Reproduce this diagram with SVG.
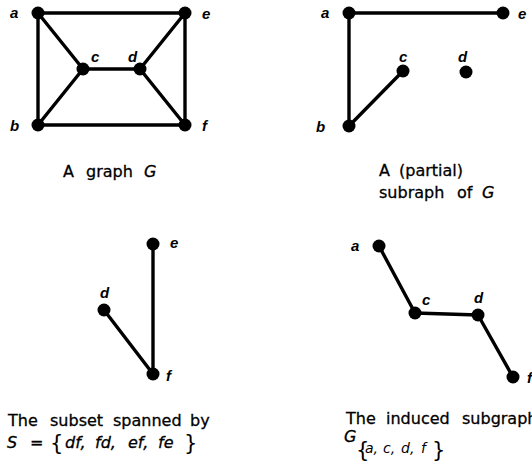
<svg xmlns="http://www.w3.org/2000/svg" width="532" height="466" viewBox="0 0 532 466">
<style>
.e{stroke:#000;stroke-width:3.4;stroke-linecap:round;fill:none}
.n{fill:#000}
.l{font-family:"Liberation Sans",Arial,sans-serif;font-style:italic;font-weight:bold;font-size:15px;fill:#000}
.c{font-family:"DejaVu Sans","Liberation Sans",sans-serif;font-size:16px;fill:#000;stroke:#000;stroke-width:0.3}
.i{font-style:italic}
.s{font-family:"DejaVu Sans","Liberation Sans",sans-serif;font-style:italic;font-size:14px;fill:#000}
.b{font-family:"DejaVu Sans","Liberation Sans",sans-serif;font-size:21px;fill:#000}
</style>
<rect width="532" height="466" fill="#fff"/>
<g id="connectors">
<g id="edges-G">
<line class="e" x1="38" y1="13" x2="185" y2="13"/>
<line class="e" x1="38" y1="13" x2="38" y2="125"/>
<line class="e" x1="185" y1="13" x2="185" y2="125"/>
<line class="e" x1="38" y1="125" x2="185" y2="125"/>
<line class="e" x1="38" y1="13" x2="83" y2="69"/>
<line class="e" x1="38" y1="125" x2="83" y2="69"/>
<line class="e" x1="83" y1="69" x2="140" y2="69"/>
<line class="e" x1="140" y1="69" x2="185" y2="13"/>
<line class="e" x1="140" y1="69" x2="185" y2="125"/>
</g>
<g id="edges-partial">
<line class="e" x1="349" y1="13" x2="503" y2="13"/>
<line class="e" x1="349" y1="13" x2="349" y2="126"/>
<line class="e" x1="349" y1="126" x2="403" y2="71"/>
</g>
<g id="edges-subset">
<line class="e" x1="153" y1="244" x2="153" y2="374"/>
<line class="e" x1="104" y1="310" x2="153" y2="374"/>
</g>
<g id="edges-induced">
<line class="e" x1="379" y1="246" x2="415" y2="313"/>
<line class="e" x1="415" y1="313" x2="478" y2="315"/>
<line class="e" x1="478" y1="315" x2="513" y2="377"/>
</g>
</g>
<g id="G-a"><circle class="n" cx="38" cy="13" r="6.5"/><text class="l" x="10" y="18">a</text></g>
<g id="G-e"><circle class="n" cx="185" cy="13" r="6.5"/><text class="l" x="202" y="19">e</text></g>
<g id="G-c"><circle class="n" cx="83" cy="69" r="6.5"/><text class="l" x="91" y="62">c</text></g>
<g id="G-d"><circle class="n" cx="140" cy="69" r="6.5"/><text class="l" x="128" y="62">d</text></g>
<g id="G-b"><circle class="n" cx="38" cy="125" r="6.5"/><text class="l" x="10" y="131">b</text></g>
<g id="G-f"><circle class="n" cx="185" cy="125" r="6.5"/><text class="l" x="202" y="131">f</text></g>
<g id="caption-G"><text class="c" y="177"><tspan x="63">A</tspan><tspan x="86">graph</tspan><tspan x="144" class="i">G</tspan></text></g>

<g id="P-a"><circle class="n" cx="349" cy="13" r="6.5"/><text class="l" x="321" y="18">a</text></g>
<g id="P-e"><circle class="n" cx="503" cy="13" r="6.5"/><text class="l" x="518" y="19">e</text></g>
<g id="P-c"><circle class="n" cx="403" cy="71" r="6.5"/><text class="l" x="399" y="62">c</text></g>
<g id="P-d"><circle class="n" cx="466" cy="72" r="6.5"/><text class="l" x="458" y="62">d</text></g>
<g id="P-b"><circle class="n" cx="349" cy="126" r="6.5"/><text class="l" x="316" y="132">b</text></g>
<g id="caption-partial"><text class="c" y="176"><tspan x="379">A</tspan><tspan x="399">(partial)</tspan></text><text class="c" y="198"><tspan x="379">subraph</tspan><tspan x="457">of</tspan><tspan x="482" class="i">G</tspan></text></g>

<g id="S-e"><circle class="n" cx="153" cy="244" r="6.5"/><text class="l" x="170" y="248">e</text></g>
<g id="S-d"><circle class="n" cx="104" cy="310" r="6.5"/><text class="l" x="100" y="298">d</text></g>
<g id="S-f"><circle class="n" cx="153" cy="374" r="6.5"/><text class="l" x="166" y="381">f</text></g>
<g id="caption-subset"><text class="c" y="426"><tspan x="8">The</tspan><tspan x="50">subset</tspan><tspan x="113">spanned</tspan><tspan x="190">by</tspan></text>
<text class="c" y="448"><tspan x="7" class="i">S</tspan><tspan x="30">=</tspan><tspan x="65" class="i">df,</tspan><tspan x="95" class="i">fd,</tspan><tspan x="128" class="i">ef,</tspan><tspan x="158" class="i">fe</tspan></text>
<text class="b" y="450"><tspan x="50">{</tspan><tspan x="184">}</tspan></text></g>

<g id="I-a"><circle class="n" cx="379" cy="246" r="6.5"/><text class="l" x="351" y="251">a</text></g>
<g id="I-c"><circle class="n" cx="415" cy="313" r="6.5"/><text class="l" x="422" y="305">c</text></g>
<g id="I-d"><circle class="n" cx="478" cy="315" r="6.5"/><text class="l" x="474" y="303">d</text></g>
<g id="I-f"><circle class="n" cx="513" cy="377" r="6.5"/><text class="l" x="527" y="383">f</text></g>
<g id="caption-induced"><text class="c" y="424"><tspan x="346">The</tspan><tspan x="386">induced</tspan><tspan x="462">subgraph</tspan></text>
<text class="c i" x="344" y="442">G</text>
<text class="b" y="457"><tspan x="356">{</tspan><tspan x="432">}</tspan></text>
<text class="s" y="453"><tspan x="365">a,</tspan><tspan x="383">c,</tspan><tspan x="401">d,</tspan><tspan x="421">f</tspan></text></g>
</svg>
